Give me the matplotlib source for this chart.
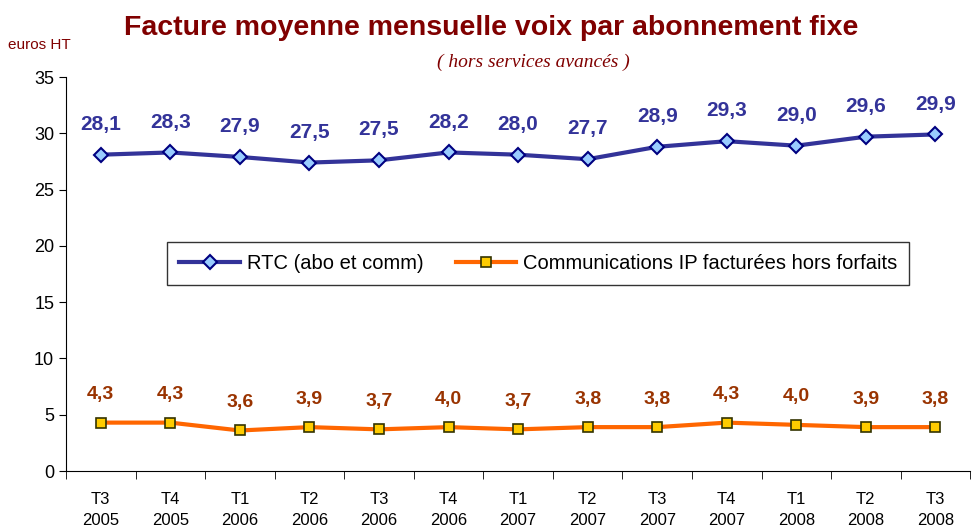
import numpy as np
import matplotlib.pyplot as plt

# Données
trimestres = ['T3\n2005', 'T4\n2005', 'T1\n2006', 'T2\n2006', 'T3\n2006', 'T4\n2006', 'T1\n2007',
              'T2\n2007', 'T3\n2007', 'T4\n2007', 'T1\n2008', 'T2\n2008', 'T3\n2008']
rtc = [28.1, 28.3, 27.9, 27.5, 27.5, 28.2, 28.0, 27.7, 28.9, 29.3, 29.0, 29.6, 29.9]
ip = [4.3, 4.3, 3.6, 3.9, 3.7, 4.0, 3.7, 3.8, 3.8, 4.3, 4.0, 3.9, 3.8]
# positions réelles des points (légèrement différentes des étiquettes arrondies)
rtc_pts = [28.1, 28.3, 27.9, 27.4, 27.6, 28.3, 28.1, 27.7, 28.8, 29.3, 28.9, 29.7, 29.9]
ip_pts = [4.3, 4.3, 3.6, 3.9, 3.7, 3.9, 3.7, 3.9, 3.9, 4.3, 4.1, 3.9, 3.9]

plt.rcParams['font.family'] = ['Liberation Sans', 'DejaVu Sans']

fig = plt.figure(figsize=(9.78, 5.29), dpi=100)
ax = fig.add_axes([0.0675, 0.1096, 0.9245, 0.7448])

x = np.arange(len(trimestres))
ax.plot(x, rtc_pts, color='#333399', lw=3, marker='D', ms=7, mfc='#99CCFF',
        mec='#000080', mew=1.5, label='RTC (abo et comm)', zorder=3)
ax.plot(x, ip_pts, color='#FF6600', lw=3, marker='s', ms=7, mfc='#FFCC00',
        mec='#333300', mew=1.2, label='Communications IP facturées hors forfaits', zorder=3)

for i in range(len(x)):
    ax.annotate(f'{rtc[i]:.1f}'.replace('.', ','), (x[i], rtc_pts[i]), xytext=(0, 15),
                textcoords='offset points', ha='center', va='bottom', fontsize=15,
                fontweight='bold', color='#333399')
    ax.annotate(f'{ip[i]:.1f}'.replace('.', ','), (x[i], ip_pts[i]), xytext=(0, 14),
                textcoords='offset points', ha='center', va='bottom', fontsize=14,
                fontweight='bold', color='#993300')

ax.set_xlim(-0.5, len(x) - 0.5)
ax.set_ylim(0, 35)
ax.set_yticks(range(0, 36, 5))
ax.set_xticks(x)
ax.set_xticklabels(trimestres, fontsize=12, linespacing=1.55)
ax.set_xticks(np.arange(-0.5, len(x), 1), minor=True)
ax.tick_params(axis='x', which='major', length=0, pad=15)
ax.tick_params(axis='x', which='minor', length=6, direction='out')
ax.tick_params(axis='y', labelsize=13, length=5, direction='out')
for s in ['top', 'right']:
    ax.spines[s].set_visible(False)

leg = ax.legend(loc='upper left', bbox_to_anchor=(0.112, 0.581), borderaxespad=0, ncol=2,
                fontsize=14.5, frameon=True, fancybox=False, edgecolor='black',
                handlelength=3.0, columnspacing=1.6, handletextpad=0.35, borderpad=0.6)
leg.get_frame().set_linewidth(1)

fig.text(0.502, 0.947, 'Facture moyenne mensuelle voix par abonnement fixe', ha='center',
         va='center', fontsize=20.5, fontweight='bold', color='#800000')
fig.text(0.545, 0.882, '( hors services avancés )', ha='center', va='center', fontsize=14,
         style='italic', family='Liberation Serif', color='#800000')
fig.text(0.008, 0.915, 'euros HT', ha='left', va='center', fontsize=11, color='#800000')

fig.savefig('out.png', dpi=100)
